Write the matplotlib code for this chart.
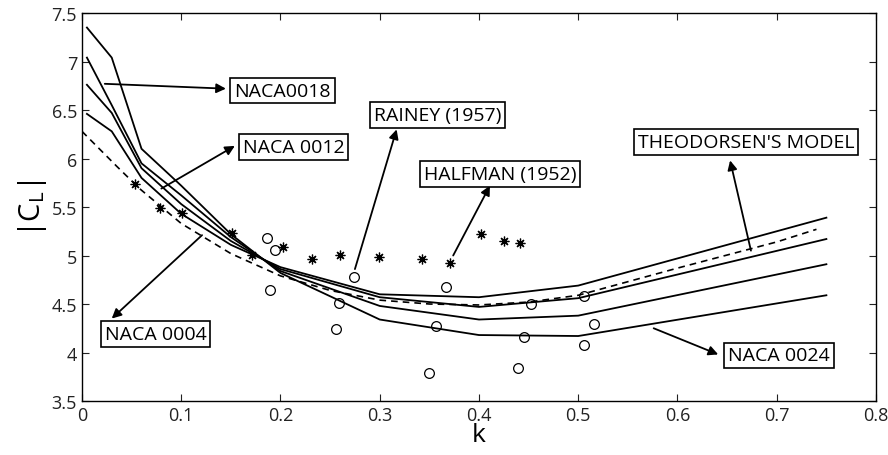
import matplotlib
matplotlib.use("Agg")
import matplotlib.pyplot as plt

plt.rcParams['font.family'] = ['Open Sans', 'DejaVu Sans']
plt.rcParams['mathtext.fontset'] = 'custom'
plt.rcParams['mathtext.rm'] = 'Open Sans'

# reduced frequency samples for the airfoil curves
k_naca = [0.005, 0.03, 0.06, 0.1, 0.15, 0.2, 0.3, 0.4, 0.5, 0.75]
cl_0024 = [7.35, 7.04, 6.10, 5.72, 5.22, 4.82, 4.34, 4.18, 4.17, 4.59]
cl_0018 = [7.04, 6.55, 5.95, 5.62, 5.19, 4.84, 4.48, 4.34, 4.38, 4.91]
cl_0012 = [6.76, 6.47, 5.90, 5.53, 5.15, 4.86, 4.57, 4.47, 4.56, 5.17]
cl_0004 = [6.46, 6.28, 5.80, 5.43, 5.11, 4.88, 4.60, 4.57, 4.69, 5.39]

# Theodorsen's model (dashed)
k_theo = [0, 0.035, 0.058, 0.1, 0.15, 0.2, 0.25, 0.3, 0.35, 0.4, 0.45, 0.5, 0.6, 0.7, 0.74]
cl_theo = [6.28, 5.92, 5.69, 5.33, 5.02, 4.79, 4.64, 4.54, 4.50, 4.49, 4.52, 4.59, 4.87, 5.14, 5.27]

# Halfman (1952) experiments
k_halfman = [0.053, 0.079, 0.101, 0.151, 0.171, 0.203, 0.232, 0.26, 0.299, 0.343, 0.371, 0.402, 0.425, 0.441]
cl_halfman = [5.74, 5.49, 5.44, 5.23, 5.01, 5.09, 4.96, 5.01, 4.98, 4.96, 4.92, 5.22, 5.15, 5.13]

# Rainey (1957) experiments
k_rainey = [0.186, 0.194, 0.189, 0.274, 0.259, 0.256, 0.367, 0.357, 0.350,
            0.452, 0.445, 0.439, 0.506, 0.516, 0.506]
cl_rainey = [5.18, 5.06, 4.64, 4.78, 4.51, 4.24, 4.68, 4.27, 3.79,
             4.50, 4.16, 3.84, 4.58, 4.29, 4.08]

fig = plt.figure(figsize=(8.88, 4.56), dpi=100)
ax = fig.add_axes([0.0923, 0.1184, 0.8942, 0.8509])

for cl in (cl_0024, cl_0018, cl_0012, cl_0004):
    ax.plot(k_naca, cl, color='black', lw=1.3)
th, = ax.plot(k_theo, cl_theo, color='black', lw=1.2, ls='--')
th.set_dashes([4, 3])

ax.plot(k_halfman, cl_halfman, ls='none', marker=(8, 2, 0), ms=7, mec='black', mew=0.9)
ax.plot(k_rainey, cl_rainey, ls='none', marker='o', ms=7, mfc='none', mec='black', mew=0.9)

box = dict(boxstyle='square,pad=0.2', fc='white', ec='black', lw=1.2)
arrow = dict(arrowstyle='-|>', color='black', lw=1.3, mutation_scale=14, shrinkA=0, shrinkB=0)

def label(txt, pos, tail, head, fs=14):
    ax.annotate('', xy=head, xytext=tail, arrowprops=arrow)
    ax.text(pos[0], pos[1], txt, fontsize=fs, ha='center', va='center', bbox=box, zorder=5)

label('NACA0018', (0.202, 6.70), (0.023, 6.77), (0.145, 6.72))
label('NACA 0012', (0.213, 6.12), (0.080, 5.69), (0.154, 6.13))
label('RAINEY (1957)', (0.358, 6.45), (0.275, 4.86), (0.317, 6.30))
label('HALFMAN (1952)', (0.421, 5.84), (0.374, 5.00), (0.411, 5.72))
label("THEODORSEN'S MODEL", (0.669, 6.17), (0.674, 5.05), (0.653, 5.98))
label('NACA 0024', (0.702, 3.97), (0.576, 4.25), (0.641, 3.98))
label('NACA 0004', (0.074, 4.19), (0.121, 5.21), (0.030, 4.35))

ax.set_xlim(0, 0.8)
ax.set_ylim(3.5, 7.5)
ax.set_xticks([0, 0.1, 0.2, 0.3, 0.4, 0.5, 0.6, 0.7, 0.8])
ax.set_xticklabels(['0', '0.1', '0.2', '0.3', '0.4', '0.5', '0.6', '0.7', '0.8'])
ax.set_yticks([3.5, 4, 4.5, 5, 5.5, 6, 6.5, 7, 7.5])
ax.set_yticklabels(['3.5', '4', '4.5', '5', '5.5', '6', '6.5', '7', '7.5'])
ax.tick_params(direction='in', top=True, right=True, labelsize=13, length=5, width=0.8, colors='#222222')
for s in ax.spines.values():
    s.set_linewidth(1.0)
ax.set_xlabel('k', fontsize=19, labelpad=-1)
ax.set_ylabel(r'$\mathrm{|C_L|}$', fontsize=21, labelpad=2)

fig.savefig('out.png', dpi=100)
